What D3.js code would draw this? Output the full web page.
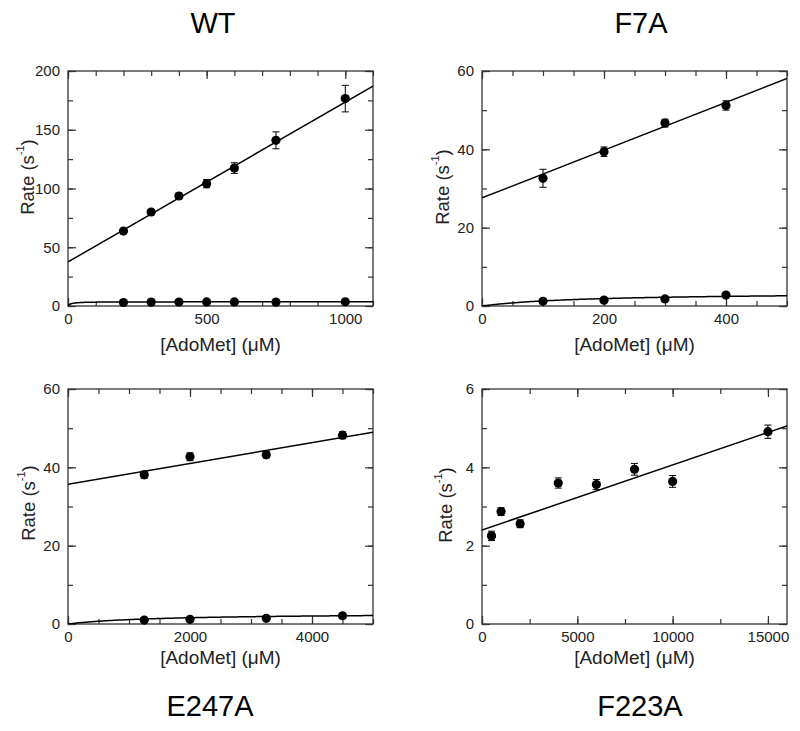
<!DOCTYPE html>
<html>
<head>
<meta charset="utf-8">
<script src="https://cdn.jsdelivr.net/npm/d3@7"></script>
<style>
  body { margin: 0; background: #fff; }
  svg { font-family: "Liberation Sans", Arial, sans-serif; }
</style>
</head>
<body>
<svg id="chart" width="800" height="731"></svg>
<script>
// WT
const wtConc = [200, 300, 400, 500, 600, 750, 1000];
const wtFast = [63.8, 80, 93.6, 104.1, 117.4, 141, 176.5];
const wtFastErr = [1.5, 2, 2.5, 3.5, 4.5, 7.2, 11.3];
const wtSlow = [3.0, 3.3, 3.4, 3.5, 3.5, 3.3, 3.6];
const wtSlowErr = [0.2, 0.2, 0.2, 0.2, 0.2, 0.2, 0.2];
const wtLineFit = [37.5, 0.136];   // intercept, slope
const wtHypFit = [3.6, 10];        // Vmax, Km

// F7A
const f7aConc = [100, 200, 300, 400];
const f7aFast = [32.6, 39.4, 46.7, 51.2];
const f7aFastErr = [2.3, 1.2, 1, 1.2];
const f7aSlow = [1.2, 1.5, 1.8, 2.8];
const f7aSlowErr = [0.2, 0.2, 0.2, 0.2];
const f7aLineFit = [27.6, 0.061];
const f7aHypFit = [3.5, 170];

// E247A
const e247aConc = [1250, 2000, 3250, 4500];
const e247aFast = [38.1, 42.7, 43.2, 48.2];
const e247aFastErr = [0.9, 1, 0.8, 0.9];
const e247aSlow = [1.0, 1.2, 1.45, 2.1];
const e247aSlowErr = [0.2, 0.2, 0.2, 0.2];
const e247aLineFit = [35.7, 0.00265];
const e247aHypFit = [2.8, 1500];

// F223A
const f223aConc = [500, 1000, 2000, 4000, 6000, 8000, 10000, 15000];
const f223aRate = [2.25, 2.87, 2.56, 3.6, 3.56, 3.95, 3.64, 4.91];
const f223aErr = [0.12, 0.1, 0.1, 0.13, 0.13, 0.15, 0.15, 0.17];
const f223aLineFit = [2.4, 0.000166];

const panels = [
  { title: 'WT', tx: 213, ty: 33, left: 68, top: 71, w: 305, h: 235,
    xMax: 1100, xMajor: 500, xMinor: 100, yMax: 200, yMajor: 50, yMinor: 25,
    ylx: 27, yly: 177, xly: 344,
    series: [
      { x: wtConc, y: wtFast, e: wtFastErr, line: wtLineFit },
      { x: wtConc, y: wtSlow, e: wtSlowErr, hyp: wtHypFit }
    ] },
  { title: 'F7A', tx: 641, ty: 33, left: 482, top: 71, w: 305, h: 235,
    xMax: 500, xMajor: 200, xMinor: 50, yMax: 60, yMajor: 20, yMinor: 10,
    ylx: 442, yly: 187, xly: 344,
    series: [
      { x: f7aConc, y: f7aFast, e: f7aFastErr, line: f7aLineFit },
      { x: f7aConc, y: f7aSlow, e: f7aSlowErr, hyp: f7aHypFit }
    ] },
  { title: 'E247A', tx: 210, ty: 716, left: 68, top: 389, w: 305, h: 235,
    xMax: 5000, xMajor: 2000, xMinor: 500, yMax: 60, yMajor: 20, yMinor: 10,
    ylx: 28, yly: 503, xly: 657,
    series: [
      { x: e247aConc, y: e247aFast, e: e247aFastErr, line: e247aLineFit },
      { x: e247aConc, y: e247aSlow, e: e247aSlowErr, hyp: e247aHypFit }
    ] },
  { title: 'F223A', tx: 640, ty: 716, left: 482, top: 389, w: 305, h: 235,
    xMax: 16000, xMajor: 5000, xMinor: 2500, yMax: 6, yMajor: 2, yMinor: 1,
    ylx: 445, yly: 505, xly: 657,
    series: [
      { x: f223aConc, y: f223aRate, e: f223aErr, line: f223aLineFit }
    ] }
];

const svg = d3.select('#chart');

const drawPanel = (p, idx) => {
  const x = d3.scaleLinear().domain([0, p.xMax]).range([0, p.w]);
  const y = d3.scaleLinear().domain([0, p.yMax]).range([p.h, 0]);
  const g = svg.append('g').attr('transform', `translate(${p.left},${p.top})`);

  g.append('clipPath').attr('id', 'clip' + idx)
    .append('rect').attr('width', p.w).attr('height', p.h);

  const xMaj = d3.range(0, p.xMax + 1e-9, p.xMajor);
  const xMin = d3.range(0, p.xMax + 1e-9, p.xMinor);
  const yMaj = d3.range(0, p.yMax + 1e-9, p.yMajor);
  const yMin = d3.range(0, p.yMax + 1e-9, p.yMinor);

  // minor ticks on all sides, pointing in
  const minors = [
    [d3.axisBottom(x).tickValues(xMin), `translate(0,${p.h})`],
    [d3.axisTop(x).tickValues(xMin), null],
    [d3.axisLeft(y).tickValues(yMin), null],
    [d3.axisRight(y).tickValues(yMin), `translate(${p.w},0)`]
  ];
  minors.forEach(([ax, tr]) => {
    const a = g.append('g').call(ax.tickSize(-5).tickFormat(''));
    if (tr) a.attr('transform', tr);
  });

  // major ticks with labels
  g.append('g').attr('transform', `translate(0,${p.h})`)
    .call(d3.axisBottom(x).tickValues(xMaj).tickSize(-8).tickPadding(7).tickFormat(d3.format('d')));
  g.append('g')
    .call(d3.axisLeft(y).tickValues(yMaj).tickSize(-8).tickPadding(8).tickFormat(d3.format('d')));
  g.append('g').call(d3.axisTop(x).tickValues(xMaj).tickSize(-8).tickFormat(''));
  g.append('g').attr('transform', `translate(${p.w},0)`)
    .call(d3.axisRight(y).tickValues(yMaj).tickSize(-8).tickFormat(''));

  g.selectAll('.domain').remove();
  g.selectAll('.tick line').attr('stroke', '#333').attr('stroke-width', 1.2);
  g.selectAll('.tick text').attr('font-size', 15).attr('fill', '#222')
    .attr('font-family', '"Liberation Sans", Arial, sans-serif');

  g.append('rect').attr('width', p.w).attr('height', p.h)
    .attr('fill', 'none').attr('stroke', '#333').attr('stroke-width', 1.3);

  const plot = g.append('g').attr('clip-path', `url(#clip${idx})`);

  p.series.forEach(s => {
    let pts;
    if (s.line) {
      pts = [0, p.xMax].map(v => [v, s.line[0] + s.line[1] * v]);
    } else {
      pts = d3.range(0, p.xMax + 1e-9, p.xMax / 200)
        .map(v => [v, s.hyp[0] * v / (s.hyp[1] + v)]);
    }
    plot.append('path')
      .attr('d', d3.line().x(d => x(d[0])).y(d => y(d[1]))(pts))
      .attr('fill', 'none').attr('stroke', '#000').attr('stroke-width', 1.5);

    const pg = g.append('g');
    s.x.forEach((xv, i) => {
      const cx = x(xv), y1 = y(s.y[i] + s.e[i]), y2 = y(s.y[i] - s.e[i]);
      pg.append('path')
        .attr('d', `M${cx},${y1}V${y2}M${cx - 3.5},${y1}H${cx + 3.5}M${cx - 3.5},${y2}H${cx + 3.5}`)
        .attr('stroke', '#000').attr('stroke-width', 1).attr('fill', 'none');
      pg.append('circle').attr('cx', cx).attr('cy', y(s.y[i])).attr('r', 4.6).attr('fill', '#000');
    });
  });

  // axis titles
  const yl = svg.append('text')
    .attr('transform', `translate(${p.ylx},${p.yly}) rotate(-90)`)
    .attr('text-anchor', 'middle').attr('dominant-baseline', 'central')
    .attr('font-size', 18.5).attr('fill', '#222');
  yl.append('tspan').text('Rate (s');
  yl.append('tspan').attr('font-size', 11).attr('dy', -7).text('-1');
  yl.append('tspan').attr('dy', 7).text(')');

  svg.append('text')
    .attr('x', p.left + p.w / 2).attr('y', p.xly)
    .attr('text-anchor', 'middle').attr('dominant-baseline', 'central')
    .attr('font-size', 19).attr('fill', '#222')
    .text('[AdoMet] (\u03bcM)');

  svg.append('text')
    .attr('x', p.tx).attr('y', p.ty)
    .attr('text-anchor', 'middle')
    .attr('font-size', 29).attr('fill', '#000')
    .text(p.title);
};

panels.forEach(drawPanel);
</script>
</body>
</html>
